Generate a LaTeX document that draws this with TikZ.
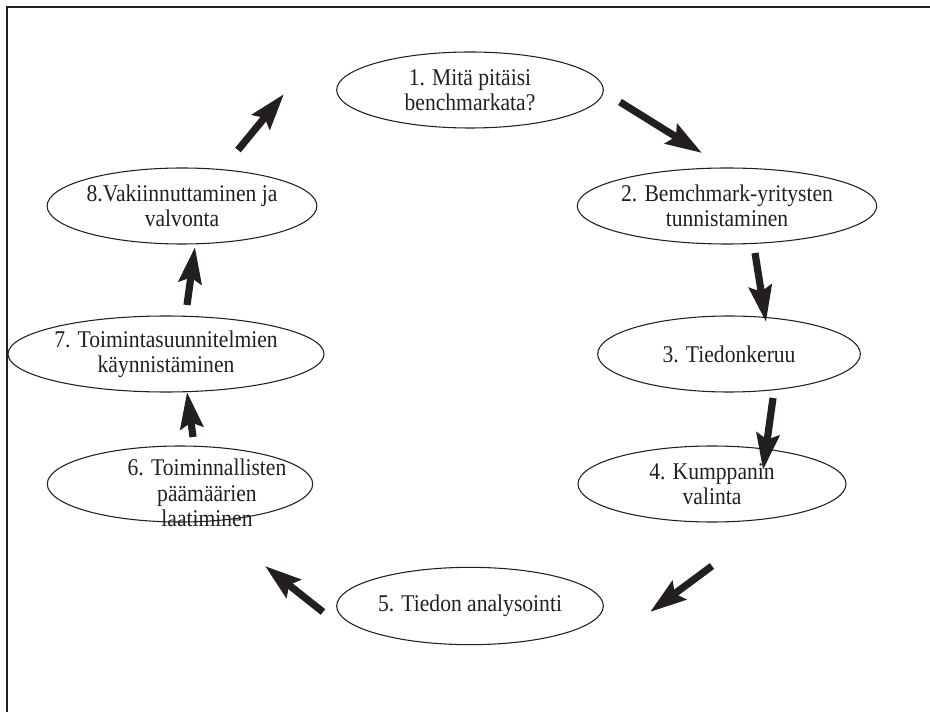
\documentclass[tikz,border=0pt]{standalone}
\usepackage{fontspec}
\setmainfont{Liberation Serif}[FakeStretch=0.9]
\usetikzlibrary{shapes.geometric,arrows.meta}
\definecolor{ink}{HTML}{231F20}
\tikzset{
  label text/.style={align=center, font=\fontsize{18}{19}\selectfont, text=ink},
  stage/.style={draw=ink, line width=0.8pt, ellipse, inner sep=0pt,
    minimum width=#1, minimum height=57pt, label text},
  flow/.style={draw=ink, line width=5.4pt,
    -{Stealth[length=27pt,width=17pt,inset=4pt]}},
}
\begin{document}
\begin{tikzpicture}[x=0.75pt,y=-0.75pt]
  \useasboundingbox (0,0) rectangle (930,712);
  % frame
  \draw[ink, line width=0.9pt] (7,712) -- (7,7) -- (930,7);

  % process stages
  \node[stage=200pt] (s1) at (470,90)  {1. Mitä pitäisi\\benchmarkata?};
  \node[stage=200pt] (s2) at (727,206) {2. Bemchmark-yritysten\\tunnistaminen};
  \node[stage=197pt] (s3) at (729,354) {3. Tiedonkeruu};
  \node[stage=201pt] (s4) at (712,484) {4. Kumppanin\\valinta};
  \node[stage=200pt, minimum height=58pt] (s5) at (470,606) {5. Tiedon analysointi};
  \node[stage=199pt] (s6) at (180,484) {};
  \node[label text] (t6) at (207,493) {6. Toiminnallisten\\päämäärien\\laatiminen};
  \node[stage=231pt] (s7) at (166,354) {7. Toimintasuunnitelmien\\käynnistäminen};
  \node[stage=202pt] (s8) at (182,206) {8.Vakiinnuttaminen ja\\valvonta};

  % arrow ends
  \coordinate (a81) at (238,150); \coordinate (b81) at (284,94);
  \coordinate (a12) at (620,102); \coordinate (b12) at (702,153);
  \coordinate (a23) at (755,253); \coordinate (b23) at (766,322);
  \coordinate (a34) at (773,398); \coordinate (b34) at (763,470);
  \coordinate (a45) at (712,566); \coordinate (b45) at (650,612);
  \coordinate (a56) at (323,612); \coordinate (b56) at (265,566);
  \coordinate (a67) at (193,437); \coordinate (b67) at (187,392);
  \coordinate (a78) at (187,305); \coordinate (b78) at (195,247);

  % cycle arrows
  \draw[flow] (a81) -- (b81);
  \draw[flow] (a12) -- (b12);
  \draw[flow] (a23) -- (b23);
  \draw[flow] (a34) -- (b34);
  \draw[flow] (a45) -- (b45);
  \draw[flow] (a56) -- (b56);
  \draw[flow] (a67) -- (b67);
  \draw[flow] (a78) -- (b78);
\end{tikzpicture}
\end{document}
